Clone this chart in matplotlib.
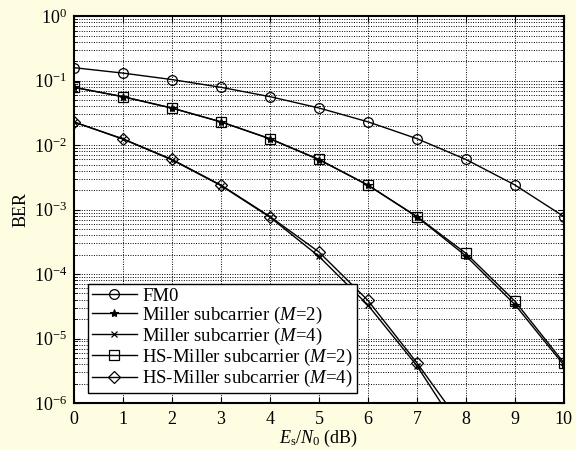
import numpy as np
import matplotlib.pyplot as plt
from matplotlib.ticker import LogLocator, NullFormatter, FixedLocator

plt.rcParams['font.family'] = ['Liberation Serif', 'DejaVu Serif']
plt.rcParams['mathtext.fontset'] = 'custom'
plt.rcParams['mathtext.rm'] = 'Liberation Serif'
plt.rcParams['mathtext.it'] = 'Liberation Serif:italic'
plt.rcParams['mathtext.default'] = 'regular'

# Es/N0 in dB
snr_db = [0, 1, 2, 3, 4, 5, 6, 7, 8, 9, 10]
ber_ticks = [1e-6, 1e-5, 1e-4, 1e-3, 1e-2, 1e-1, 1]

ber_fm0 = [0.159, 0.131, 0.104, 0.0789, 0.0565, 0.0377, 0.0230, 0.0126, 0.0060, 0.00241, 0.00078]
ber_miller2 = [0.0786, 0.0563, 0.0375, 0.0229, 0.0125, 0.00595, 0.00239, 0.000773, 0.000191, 3.36e-5, 3.87e-6]
ber_miller4 = [0.0228, 0.0124, 0.0059, 0.00236, 0.000762, 0.000188, 3.3e-5, 3.78e-6, 2.53e-7, 8.7e-9, 1.3e-10]
ber_hs2 = [0.079, 0.0565, 0.0376, 0.0230, 0.0126, 0.0060, 0.0024, 0.00078, 0.00021, 3.8e-5, 4.2e-6]
snr_hs4 = [0, 1, 2, 3, 4, 5, 6, 7, 8]
ber_hs4 = [0.0229, 0.0125, 0.0060, 0.0024, 0.00078, 0.00022, 3.9e-5, 4.2e-6, 3.7e-7]

bg = '#fefde2'
fig = plt.figure(figsize=(5.76, 4.5), dpi=100, facecolor=bg)
ax = fig.add_axes([0.1285, 0.1044, 0.8505, 0.8596])

ax.semilogy(snr_db, ber_fm0, 'k-o', lw=1, ms=7, mfc='none', mew=0.9, label='FM0')
ax.semilogy(snr_db, ber_miller2, 'k-*', lw=1, ms=6, mew=0.8, label='Miller subcarrier ($\\mathit{M}$=2)')
ax.semilogy(snr_db, ber_miller4, 'k-x', lw=1, ms=4, mew=0.9, label='Miller subcarrier ($\\mathit{M}$=4)')
ax.semilogy(snr_db, ber_hs2, 'k-s', lw=1, ms=7, mfc='none', mew=0.9, label='HS-Miller subcarrier ($\\mathit{M}$=2)')
ax.semilogy(snr_hs4, ber_hs4, 'k-D', lw=1, ms=6, mfc='none', mew=0.9, label='HS-Miller subcarrier ($\\mathit{M}$=4)')

ax.set_xlim(0, 10)
ax.set_ylim(1e-6, 1)
ax.set_xticks(snr_db)
ax.yaxis.set_major_locator(FixedLocator(ber_ticks))
ax.yaxis.set_minor_locator(LogLocator(base=10, subs=np.arange(2, 10), numticks=100))
ax.yaxis.set_minor_formatter(NullFormatter())

# dotted grid, minor lines only along y
ax.grid(True, which='major', color='k', linestyle=(0, (1, 1.5)), linewidth=0.7)
ax.grid(True, which='minor', axis='y', color='k', linestyle=(0, (1, 1.5)), linewidth=0.7)

ax.tick_params(which='both', direction='in', top=True, right=True, labelsize=13)
ax.tick_params(which='major', length=4, width=0.8)
ax.tick_params(which='minor', length=2, width=0.6)
ax.tick_params(axis='x', pad=6)
ax.tick_params(axis='y', pad=5)
for s in ax.spines.values():
    s.set_linewidth(1.5)

ax.set_xlabel('$\\mathit{E}_\\mathrm{s}/\\mathit{N}_0$ (dB)', fontsize=13, labelpad=0)
ax.set_ylabel('BER', fontsize=13, labelpad=3)

leg = ax.legend(loc='lower left', bbox_to_anchor=(0.0286, 0.026), borderaxespad=0,
                fontsize=13.5, labelspacing=0.0, handlelength=2.4, handletextpad=0.3,
                borderpad=0.2, fancybox=False, framealpha=1, edgecolor='k')
leg.get_frame().set_linewidth(1.0)

fig.savefig('out.png', dpi=100, facecolor=bg)
